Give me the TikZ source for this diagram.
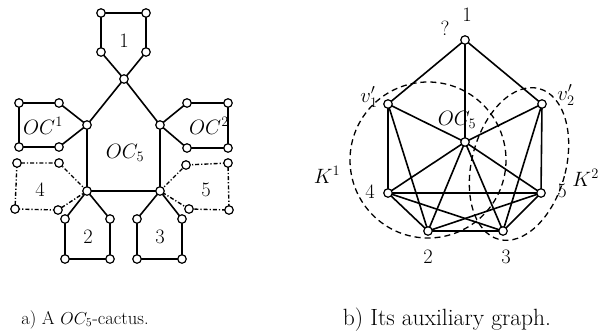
\documentclass[tikz,border=0pt]{standalone}
\begin{document}
\begin{tikzpicture}[x=1pt,y=-1pt,
  vtx/.style={circle,draw,fill=white,line width=1.2pt,inner sep=0pt,minimum size=8.5pt},
  edge/.style={line width=1.6pt},
  dd/.style={line width=1.4pt,dash pattern=on 4pt off 2pt on 1.2pt off 2pt},
  kdash/.style={line width=1.3pt,dash pattern=on 6pt off 4pt},
  lbl/.style={font=\fontsize{20.5}{22}\selectfont,inner sep=0pt},
  capa/.style={font=\fontsize{18.5}{20}\selectfont,inner sep=0pt,anchor=base},
  capb/.style={font=\fontsize{23.5}{26}\selectfont,inner sep=0pt,anchor=base}]
\useasboundingbox (0,0) rectangle (599,335);
% ---------- left: cactus ----------
\coordinate (p1a) at (101,13); \coordinate (p1b) at (146,13);
\coordinate (p1c) at (101,52); \coordinate (p1d) at (146,52);
\coordinate (t) at (124,79);
\coordinate (a) at (87,125); \coordinate (b) at (160,125);
\coordinate (c) at (87,191); \coordinate (d) at (160,191);
\coordinate (q1) at (59,103); \coordinate (q2) at (19,103);
\coordinate (q3) at (19,147); \coordinate (q4) at (59,147);
\coordinate (r1) at (187,103); \coordinate (r2) at (228,103);
\coordinate (r3) at (228,148); \coordinate (r4) at (187,148);
\coordinate (s1) at (59,163); \coordinate (s2) at (17,163);
\coordinate (s3) at (15,209); \coordinate (s4) at (58,210);
\coordinate (u1) at (186,165); \coordinate (u2) at (228,163);
\coordinate (u3) at (229,210); \coordinate (u4) at (189,209);
\coordinate (w1) at (65,219); \coordinate (w2) at (65,259);
\coordinate (w3) at (110,259); \coordinate (w4) at (110,219);
\coordinate (x1) at (137,219); \coordinate (x2) at (137,259);
\coordinate (x3) at (182,259); \coordinate (x4) at (182,219);
\draw[edge] (t) -- (p1c) -- (p1a) -- (p1b) -- (p1d) -- (t);
\draw[edge] (t) -- (a) -- (c) -- (d) -- (b) -- (t);
\draw[edge] (a) -- (q1) -- (q2) -- (q3) -- (q4) -- (a);
\draw[edge] (b) -- (r1) -- (r2) -- (r3) -- (r4) -- (b);
\draw[dd] (c) -- (s1) -- (s2) -- (s3) -- (s4) -- (c);
\draw[dd] (d) -- (u1) -- (u2) -- (u3) -- (u4) -- (d);
\draw[edge] (c) -- (w1) -- (w2) -- (w3) -- (w4) -- (c);
\draw[edge] (d) -- (x1) -- (x2) -- (x3) -- (x4) -- (d);
\foreach \v in {p1a,p1b,p1c,p1d,t,a,b,c,d,q1,q2,q3,q4,r1,r2,r3,r4,s1,s2,s3,s4,u1,u2,u3,u4,w1,w2,w3,w4,x1,x2,x3,x4}
  \node[vtx] (n\v) at (\v) {};
\node[lbl] (l1) at (124,41) {1};
\node[lbl] (loc1) at (43,126) {$OC^1$};
\node[lbl] (loc2) at (209,126) {$OC^2$};
\node[lbl] (loc5) at (125,153) {$OC_5$};
\node[lbl] (l4) at (40,190) {4};
\node[lbl] (l5) at (206,190) {5};
\node[lbl] (l2) at (88,237) {2};
\node[lbl] (l3) at (160,237) {3};
% ---------- right: auxiliary graph ----------
\coordinate (R1) at (465,40); \coordinate (V1) at (388,104);
\coordinate (V2) at (542,104); \coordinate (C) at (465,142);
\coordinate (N4) at (388,193); \coordinate (N5) at (541,193);
\coordinate (N2) at (428,231); \coordinate (N3) at (503,231);
\draw[kdash] (428,160) circle (78);
\draw[kdash,rotate around={-15:(519,164)}] (519,164) ellipse (47 and 78);
\draw[edge] (R1) -- (V1) (R1) -- (V2) (R1) -- (C);
\draw[edge] (V1) -- (N4) (V1) -- (N2) (V1) -- (C);
\draw[edge] (V2) -- (N5) (V2) -- (N3) (V2) -- (C);
\draw[edge] (C) -- (N4) (C) -- (N5) (C) -- (N2) (C) -- (N3);
\draw[edge] (N4) -- (N5) (N4) -- (N2) (N4) -- (N3);
\draw[edge] (N5) -- (N2) (N5) -- (N3) (N2) -- (N3);
\foreach \v in {R1,V1,V2,C,N4,N5,N2,N3}
  \node[vtx] (m\v) at (\v) {};
\node[lbl] (k1) at (467,15) {1};
\node[lbl] (kq) at (445,28) {?};
\node[lbl] (kv1) at (369,97) {$v_1'$};
\node[lbl] (kv2) at (566,95) {$v_2'$};
\node[lbl] (koc) at (457,120) {$OC_5$};
\node[lbl] (k4) at (370,192) {4};
\node[lbl] (k5) at (562,191) {5};
\node[lbl] (k2) at (428,257) {2};
\node[lbl] (k3) at (506,257) {3};
\node[lbl] (kK1) at (327,175) {$K^1$};
\node[lbl,anchor=east] (kK2) at (599,178) {$K^2$};
% ---------- captions ----------
\node[capa] (capa) at (85,324) {a) A $OC_5$-cactus.};
\node[capb] (capb) at (447,325) {b) Its auxiliary graph.};
\end{tikzpicture}
\end{document}
